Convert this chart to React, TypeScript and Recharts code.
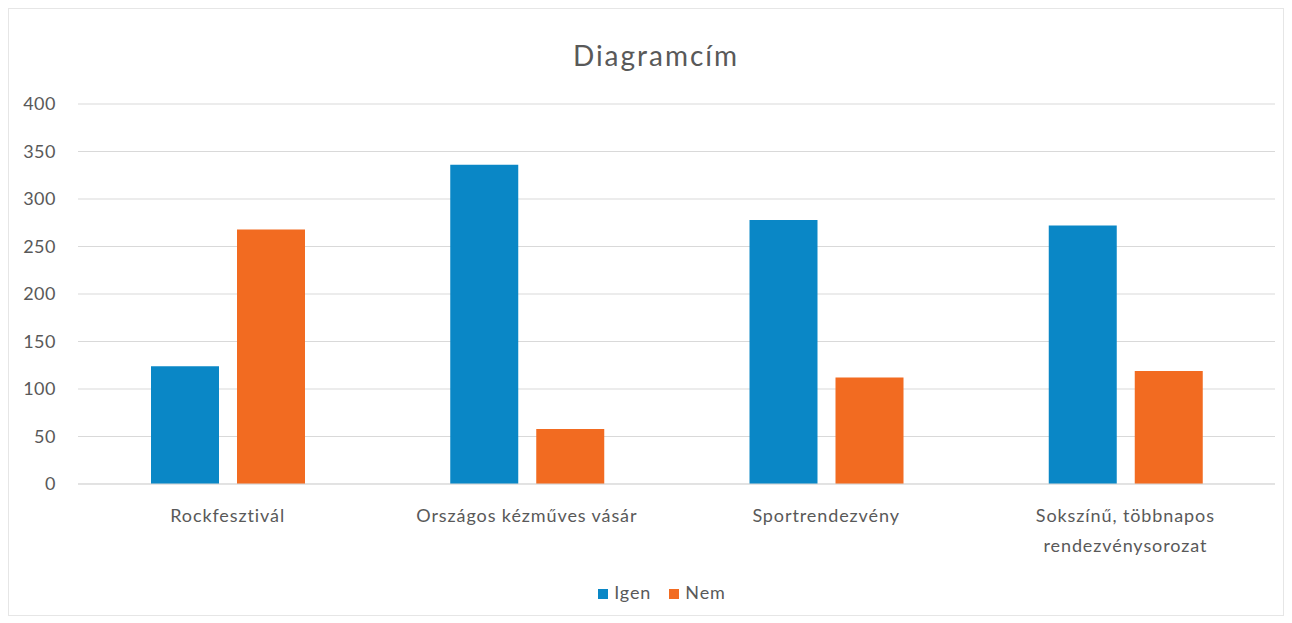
import React from 'react';
import { BarChart, Bar, XAxis, YAxis, CartesianGrid, Legend } from 'recharts';

const categories = ['Rockfesztivál', 'Országos kézműves vásár', 'Sportrendezvény', 'Sokszínű, többnapos\nrendezvénysorozat'];
const igenValues = [124, 336, 278, 272];
const nemValues = [268, 58, 112, 119];
const yTicks = [0, 50, 100, 150, 200, 250, 300, 350, 400];

const data = categories.map((c, i) => ({ name: c, Igen: igenValues[i], Nem: nemValues[i] }));

const FONT = 'Lato, sans-serif';
const TXT = '#595959';

const CatTick = (props: any) => {
  const { x, y, payload } = props;
  const lines = String(payload.value).split('\n');
  return (
    <g transform={`translate(${x},${y})`}>
      {lines.map((l: string, i: number) => (
        <text key={i} x={0} y={i * 30} dy={30} textAnchor="middle" fill={TXT} fontSize={18} fontFamily={FONT} letterSpacing={0.9}>
          {l}
        </text>
      ))}
    </g>
  );
};

export default function App() {
  return (
    <div style={{ position: 'absolute', left: 0, top: 0, width: 1292, height: 623, background: '#fff' }}>
      <div style={{ position: 'absolute', left: 8, top: 8, width: 1276, height: 608, border: '1px solid #e6e6e6', boxSizing: 'border-box' }} />
      <div style={{ position: 'absolute', left: 0, top: 38, width: 1312, textAlign: 'center', fontFamily: FONT, fontSize: 28, color: TXT, letterSpacing: 2, lineHeight: '34px' }}>
        Diagramcím
      </div>
      <BarChart
        width={1292}
        height={623}
        data={data}
        margin={{ top: 104, right: 17, left: 3, bottom: 0 }}
        barGap={18}
        barSize={68}
      >
        <CartesianGrid vertical={false} stroke="#d9d9d9" />
        <XAxis
          dataKey="name"
          tick={<CatTick />}
          tickLine={false}
          axisLine={{ stroke: '#d9d9d9' }}
          interval={0}
          height={139}
        />
        <YAxis
          width={75}
          domain={[0, 400]}
          ticks={yTicks}
          tickLine={false}
          axisLine={false}
          tick={{ fill: TXT, fontSize: 18, fontFamily: FONT, letterSpacing: 0.5 }}
          tickMargin={16}
        />
        <Legend
          verticalAlign="middle"
          align="center"
          layout="horizontal"
          iconType="square"
          iconSize={10}
          wrapperStyle={{ position: 'absolute', top: 581, left: 11, width: 1320, fontFamily: FONT, fontSize: 18, letterSpacing: 0.9 }}
          formatter={(v: string) => <span style={{ color: TXT, marginLeft: 2, marginRight: 8 }}>{v}</span>}
        />
        <Bar dataKey="Igen" fill="#0A87C6" isAnimationActive={false} />
        <Bar dataKey="Nem" fill="#F26B21" isAnimationActive={false} />
      </BarChart>
    </div>
  );
}
